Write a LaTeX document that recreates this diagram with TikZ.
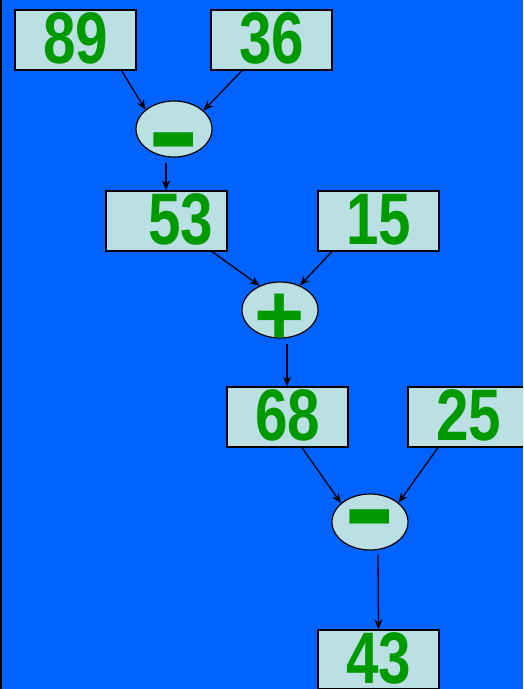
\documentclass[tikz,border=0pt]{standalone}
\usepackage{fontspec}
\setmainfont{Liberation Sans}
\usepackage{graphicx}
\usetikzlibrary{shapes.geometric, arrows.meta, positioning}
\definecolor{bgblue}{RGB}{0, 99, 255}
\definecolor{boxcyan}{RGB}{187, 224, 227}
\definecolor{numgreen}{RGB}{0, 153, 0}
\newcommand{\opnum}[1]{\scalebox{0.8}[1]{#1}}

\begin{document}
\begin{tikzpicture}[x=1pt, y=-1pt,
  numbox/.style={draw=black, line width=1.2pt, fill=boxcyan, minimum width=121pt,
    minimum height=60pt, inner sep=0pt, text height=53pt, text depth=7pt,
    text=numgreen, font=\fontsize{73}{73}\selectfont\bfseries},
  opnode/.style={ellipse, draw=black, line width=1.2pt, fill=boxcyan, minimum width=76pt,
    minimum height=56pt, inner sep=0pt, text height=0pt, text depth=0pt, text=numgreen,
    font=\fontsize{80}{80}\selectfont\bfseries},
  link/.style={line width=1.3pt, -{Stealth[length=10pt, width=8pt]}}]
  % --- background ---
  \fill[bgblue] (0,0) rectangle (523,689);
  \clip (0,0) rectangle (523,689);
  \draw[black, line width=1.5pt] (0.75,0) -- (0.75,689);

  % --- first step: 89 - 36 ---
  \node[numbox] (n89) at (75.5,40) {\opnum{89}};
  \node[numbox] (n36) at (271.5,40) {\opnum{36}};
  \node[opnode] (m1) at (174,129) {\raisebox{-49pt}{\scalebox{1}[1.8]{--}}};
  \draw[link] ([xshift=46pt]n89.south) -- (m1.146);
  \draw[link] ([xshift=-29.5pt]n36.south) -- (m1.32);

  % --- second step: 53 + 15 ---
  \node[numbox] (n53) at (166.5,221) {\hspace*{29pt}\opnum{53}};
  \node[numbox] (n15) at (378.5,221) {\opnum{15}};
  \draw[link] ([xshift=-8pt, yshift=-5pt]m1.south) -- ([xshift=-0.5pt]n53.north);
  \node[opnode, font=\fontsize{86}{86}\selectfont\bfseries] (p1) at (280,310)
    {\raisebox{-34pt}{+}};
  \draw[link] ([xshift=45.5pt]n53.south) -- (p1.130);
  \draw[link] ([xshift=-46.5pt]n15.south) -- (p1.51);

  % --- third step: 68 - 25 ---
  \node[numbox] (n68) at (287.5,417) {\opnum{68}};
  \node[numbox] (n25) at (468.5,417) {\opnum{25}};
  \draw[link] ([xshift=7pt, yshift=-5pt]p1.south) -- ([xshift=-0.5pt]n68.north);
  \node[opnode] (m2) at (370,522) {\raisebox{-33.5pt}{\scalebox{1}[1.8]{--}}};
  \draw[link] ([xshift=14.5pt]n68.south) -- (m2.147);
  \draw[link] ([xshift=-30.5pt]n25.south) -- (m2.34);

  % --- result ---
  \node[numbox, minimum height=59pt, text depth=6pt] (n43) at (378.5,659.5) {\opnum{43}};
  \draw[link] ([xshift=8pt, yshift=-4pt]m2.south) -- (n43.north);
\end{tikzpicture}
\end{document}
